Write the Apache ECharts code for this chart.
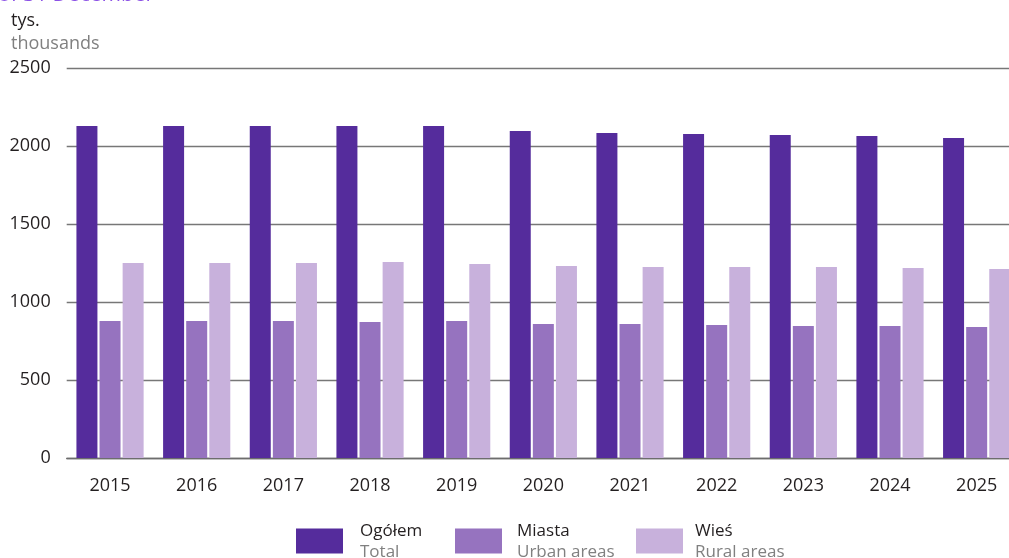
<!DOCTYPE html>
<html>
<head>
<meta charset="utf-8">
<script src="https://cdn.jsdelivr.net/npm/echarts@6.0.0/dist/echarts.min.js"></script>
<style>
  html, body { margin: 0; padding: 0; background: #fff; }
  #container { width: 1009px; height: 558px; }
</style>
</head>
<body>
<div id="container"></div>
<script>
/* Chart data */
var years = ['2015', '2016', '2017', '2018', '2019', '2020', '2021', '2022', '2023', '2024', '2025'];
var total = [2128, 2128, 2128, 2128, 2128, 2096, 2083, 2077, 2071, 2064, 2051];
var urban = [878, 878, 878, 872, 878, 859, 859, 853, 846, 846, 840];
var rural = [1250, 1250, 1250, 1256, 1244, 1231, 1224, 1224, 1224, 1218, 1212];
var yTicks = [0, 500, 1000, 1500, 2000, 2500];

var seriesNames = ['Ogółem', 'Miasta', 'Wieś'];
var seriesSub = ['Total', 'Urban areas', 'Rural areas'];
var colors = ['#552c9c', '#9673bf', '#c8b1dc'];

var font = '"Open Sans", "Noto Sans", sans-serif';

var dom = document.getElementById('container');
var myChart = echarts.init(dom, null, { renderer: 'canvas' });

// one legend per series so each can sit where the original puts it
function makeLegend(i, left, textGap) {
    return {
        data: [seriesNames[i]],
        left: left,
        top: 519,
        padding: 0,
        itemWidth: 47,
        itemHeight: 25,
        itemGap: 0,
        selectedMode: false,
        icon: 'rect',
        formatter: function (name) {
            return '{a|' + name + '}\n{b|' + seriesSub[i] + '}';
        },
        textStyle: {
            padding: [0, 0, 0, textGap],
            rich: {
                a: { fontFamily: font, fontSize: 17, color: '#231f20', lineHeight: 23, padding: [4, 0, 0, 0] },
                b: { fontFamily: font, fontSize: 17, color: '#808080', lineHeight: 23 }
            }
        }
    };
}

var option = {
    animation: false,
    textStyle: { fontFamily: font },
    graphic: [
        {
            type: 'text', left: -2, top: -15,
            style: { text: 'of 31 December', fill: '#8c52e6', font: '21px ' + font }
        },
        {
            type: 'text', left: 11, top: 12,
            style: { text: 'tys.', fill: '#231f20', font: '18px ' + font }
        },
        {
            type: 'text', left: 11, top: 35,
            style: { text: 'thousands', fill: '#808080', font: '18px ' + font }
        }
    ],
    legend: [makeLegend(0, 296, 12), makeLegend(1, 455, 10), makeLegend(2, 636, 7)],
    grid: { left: 66.7, width: 953.3, top: 68, bottom: 100, outerBoundsMode: 'none' },
    xAxis: {
        type: 'category',
        data: years,
        axisLine: { lineStyle: { color: '#6d6d6d', width: 1.3 } },
        axisTick: { length: 8, lineStyle: { color: '#6d6d6d', width: 1.3 } },
        axisLabel: { fontFamily: font, fontSize: 18, color: '#231f20', margin: 19 }
    },
    yAxis: {
        type: 'value',
        min: yTicks[0],
        max: yTicks[yTicks.length - 1],
        interval: 500,
        axisLine: { show: false },
        axisTick: { show: false },
        axisLabel: {
            fontFamily: font, fontSize: 18, color: '#231f20', margin: 16,
            formatter: function (v) { return String(v); }
        },
        splitLine: { lineStyle: { color: '#777', width: 1.3 } }
    },
    series: [
        { name: seriesNames[0], type: 'bar', data: total, barWidth: 21, barGap: '10%', itemStyle: { color: colors[0] } },
        { name: seriesNames[1], type: 'bar', data: urban, barWidth: 21, barGap: '10%', itemStyle: { color: colors[1] } },
        { name: seriesNames[2], type: 'bar', data: rural, barWidth: 21, barGap: '10%', itemStyle: { color: colors[2] } }
    ]
};

myChart.setOption(option);
</script>
</body>
</html>
